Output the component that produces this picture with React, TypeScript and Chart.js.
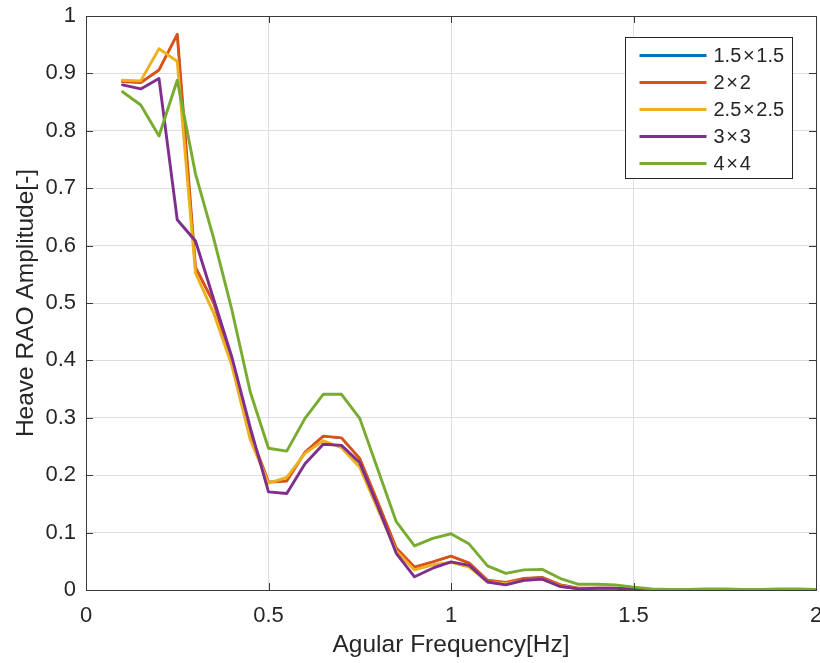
import React, { useEffect, useRef } from "react";
import { Chart, registerables } from "chart.js";

Chart.register(...registerables);

const frequencies = [
  0.1, 0.15, 0.2, 0.25, 0.3, 0.35, 0.4, 0.45, 0.5, 0.55,
  0.6, 0.65, 0.7, 0.75, 0.8, 0.85, 0.9, 0.95, 1.0, 1.05,
  1.1, 1.15, 1.2, 1.25, 1.3, 1.35, 1.4, 1.45, 1.5, 1.55,
  1.6, 1.65, 1.7, 1.75, 1.8, 1.85, 1.9, 1.95, 2.0,
];

const seriesNames = [
  "1.5\u200a\u00d7\u200a1.5",
  "2\u200a\u00d7\u200a2",
  "2.5\u200a\u00d7\u200a2.5",
  "3\u200a\u00d7\u200a3",
  "4\u200a\u00d7\u200a4",
];
const seriesColors = ["#0072BD", "#D95319", "#EDB120", "#7E2F8E", "#77AC30"];

const rao1p5 = [
  0.886, 0.884, 0.906, 0.968, 0.562, 0.5, 0.396, 0.272, 0.188, 0.19,
  0.24, 0.268, 0.265, 0.229, 0.152, 0.073, 0.04, 0.049, 0.059, 0.047,
  0.017, 0.013, 0.02, 0.022, 0.009, 0.003, 0.003, 0.003, 0.002, 0.001,
  0.001, 0.001, 0.001, 0.001, 0.001, 0.001, 0.001, 0.001, 0.001,
];
const rao2 = [
  0.886, 0.884, 0.906, 0.968, 0.562, 0.5, 0.396, 0.272, 0.188, 0.19,
  0.24, 0.268, 0.265, 0.229, 0.152, 0.073, 0.04, 0.049, 0.059, 0.047,
  0.017, 0.013, 0.02, 0.022, 0.009, 0.003, 0.003, 0.003, 0.002, 0.001,
  0.001, 0.001, 0.001, 0.001, 0.001, 0.001, 0.001, 0.001, 0.001,
];
const rao2p5 = [
  0.888, 0.887, 0.943, 0.921, 0.552, 0.482, 0.39, 0.262, 0.186, 0.196,
  0.238, 0.26, 0.248, 0.214, 0.14, 0.068, 0.035, 0.044, 0.048, 0.04,
  0.014, 0.011, 0.017, 0.019, 0.007, 0.002, 0.002, 0.002, 0.001, 0.001,
  0.001, 0.001, 0.001, 0.001, 0.001, 0.001, 0.001, 0.001, 0.001,
];
const rao3 = [
  0.88, 0.873, 0.891, 0.645, 0.608, 0.506, 0.405, 0.283, 0.171, 0.168,
  0.22, 0.254, 0.252, 0.222, 0.145, 0.064, 0.023, 0.038, 0.049, 0.043,
  0.014, 0.009, 0.017, 0.019, 0.006, 0.002, 0.003, 0.003, 0.0015, 0.001,
  0.001, 0.001, 0.001, 0.001, 0.001, 0.001, 0.001, 0.001, 0.001,
];
const rao4 = [
  0.868, 0.845, 0.791, 0.888, 0.725, 0.612, 0.487, 0.345, 0.247, 0.242,
  0.299, 0.341, 0.341, 0.299, 0.209, 0.119, 0.077, 0.09, 0.098, 0.08,
  0.042, 0.029, 0.035, 0.036, 0.02, 0.01, 0.01, 0.009, 0.005, 0.002,
  0.001, 0.001, 0.002, 0.002, 0.001, 0.001, 0.002, 0.002, 0.001,
];

const xTicks = [0, 0.5, 1, 1.5, 2];
const yTicks = [0, 0.1, 0.2, 0.3, 0.4, 0.5, 0.6, 0.7, 0.8, 0.9, 1];

const FONT = "'Liberation Sans', Arial, Helvetica, sans-serif";
const TEXT = "#262626";
const AXIS = "#3a3a3a";

const boxPlugin = {
  id: "matlabBox",
  afterDraw(chart: any) {
    const { ctx, chartArea, scales } = chart;
    const { left, right, top, bottom } = chartArea;
    const xs = scales.x;
    const ys = scales.y;
    ctx.save();
    ctx.strokeStyle = AXIS;
    ctx.lineWidth = 1;
    ctx.strokeRect(Math.round(left) + 0.5, Math.round(top) + 0.5, Math.round(right - left), Math.round(bottom - top));
    const tl = 7;
    ctx.beginPath();
    for (const v of xTicks) {
      const px = Math.round(xs.getPixelForValue(v)) + 0.5;
      ctx.moveTo(px, bottom);
      ctx.lineTo(px, bottom - tl);
      ctx.moveTo(px, top);
      ctx.lineTo(px, top + tl);
    }
    for (const v of yTicks) {
      const py = Math.round(ys.getPixelForValue(v)) + 0.5;
      ctx.moveTo(left, py);
      ctx.lineTo(left + tl, py);
      ctx.moveTo(right, py);
      ctx.lineTo(right - tl, py);
    }
    ctx.stroke();

    // legend
    const bw = 167;
    const bh = 141;
    const bx = Math.round(right - 24 - bw) + 0.5;
    const by = Math.round(top + 21) + 0.5;
    ctx.fillStyle = "#ffffff";
    ctx.fillRect(bx, by, bw, bh);
    ctx.strokeStyle = "#262626";
    ctx.lineWidth = 1;
    ctx.strokeRect(bx, by, bw, bh);
    ctx.font = `20px ${FONT}`;
    ctx.textBaseline = "middle";
    ctx.textAlign = "left";
    seriesNames.forEach((name, i) => {
      const cy = by + 18 + i * 27;
      ctx.strokeStyle = seriesColors[i];
      ctx.lineWidth = 3;
      ctx.beginPath();
      ctx.moveTo(bx + 14, cy);
      ctx.lineTo(bx + 81, cy);
      ctx.stroke();
      ctx.fillStyle = TEXT;
      ctx.fillText(name, bx + 88, cy + 1);
    });
    ctx.restore();
  },
};

export default function App() {
  const ref = useRef<HTMLCanvasElement | null>(null);
  useEffect(() => {
    if (!ref.current) return;
    const allSeries = [rao1p5, rao2, rao2p5, rao3, rao4];
    const datasets = allSeries.map((vals, i) => ({
      label: seriesNames[i],
      data: frequencies.map((f, k) => ({ x: f, y: vals[k] })),
      borderColor: seriesColors[i],
      backgroundColor: seriesColors[i],
      borderWidth: i === 0 ? 2 : 2.9,
      pointRadius: 0,
      tension: 0,
      borderJoinStyle: "round" as const,
      borderCapStyle: "round" as const,
      order: allSeries.length - 1 - i,
    }));
    const chart = new Chart(ref.current, {
      type: "line",
      data: { datasets },
      plugins: [boxPlugin],
      options: {
        animation: false,
        responsive: false,
        maintainAspectRatio: false,
        layout: { padding: { left: 0, right: 4, top: 16, bottom: 0 } },
        plugins: { legend: { display: false }, tooltip: { enabled: false } },
        scales: {
          x: {
            type: "linear",
            min: 0,
            max: 2,
            afterBuildTicks: (s: any) => {
              s.ticks = xTicks.map((v) => ({ value: v }));
            },
            afterFit: (s: any) => {
              s.height = 73;
              s.paddingLeft = 0;
              s.paddingRight = 0;
            },
            grid: { color: "#dedede", lineWidth: 1, drawTicks: false, tickLength: 0 },
            border: { display: false },
            ticks: {
              padding: 13,
              color: TEXT,
              font: { family: FONT, size: 22 },
              maxRotation: 0,
              callback: (v: any) => String(Number(Number(v).toFixed(2))),
            },
            title: {
              display: true,
              text: "Agular Frequency[Hz]",
              color: TEXT,
              font: { family: FONT, size: 24.5 },
              padding: { top: 0, bottom: 3 },
            },
          },
          y: {
            type: "linear",
            min: 0,
            max: 1,
            afterBuildTicks: (s: any) => {
              s.ticks = yTicks.map((v) => ({ value: v }));
            },
            afterFit: (s: any) => {
              s.width = 86;
              s.paddingTop = 0;
              s.paddingBottom = 0;
            },
            grid: { color: "#dedede", lineWidth: 1, drawTicks: false, tickLength: 0 },
            border: { display: false },
            ticks: {
              padding: 10,
              color: TEXT,
              font: { family: FONT, size: 22 },
              callback: (v: any) => String(Number(Number(v).toFixed(2))),
            },
            title: {
              display: true,
              text: "Heave RAO Amplitude[-]",
              color: TEXT,
              font: { family: FONT, size: 24.5 },
              padding: { top: 12, bottom: 0 },
            },
          },
        },
      },
    });
    return () => chart.destroy();
  }, []);
  return (
    <div style={{ position: "absolute", left: 0, top: 0, width: 820, height: 663, background: "#ffffff" }}>
      <canvas ref={ref} width={820} height={663} style={{ display: "block" }} />
    </div>
  );
}
